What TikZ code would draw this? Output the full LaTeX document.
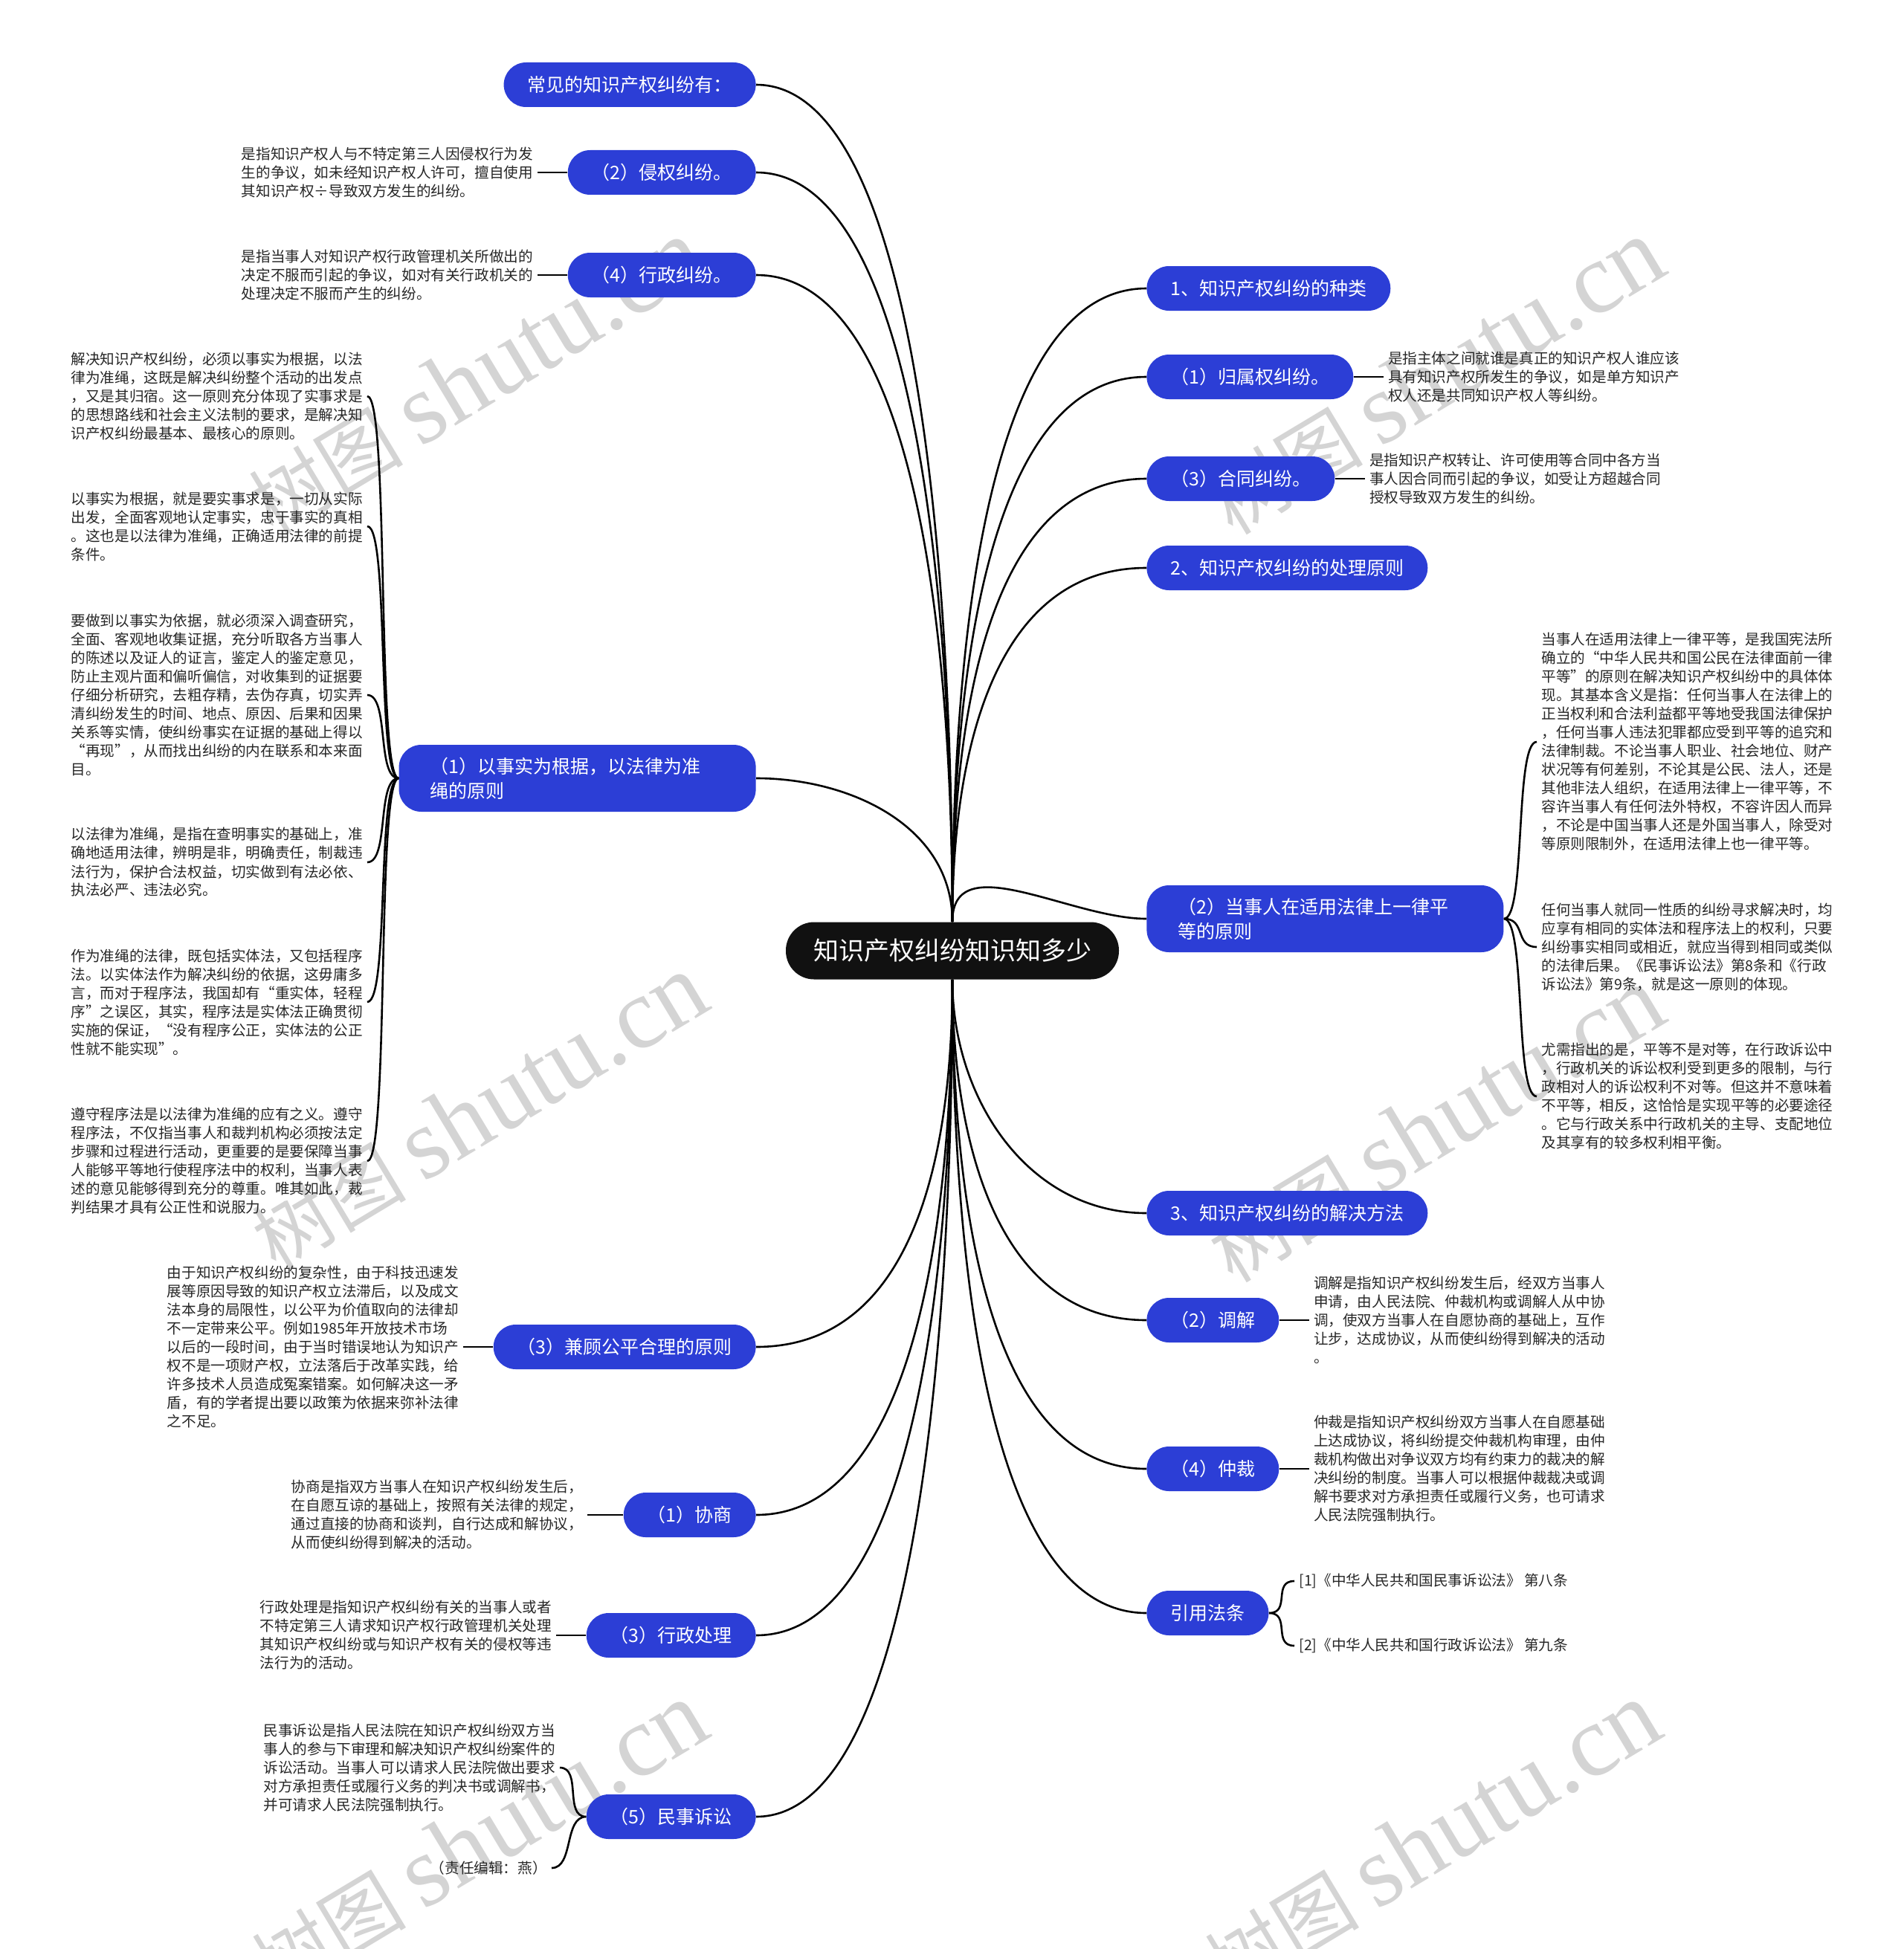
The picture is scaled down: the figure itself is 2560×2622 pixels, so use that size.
\documentclass[tikz,border=0pt]{standalone}
\usepackage{fontspec}
\setmainfont{Noto Sans CJK SC}
\newfontfamily\wmlatin{Liberation Serif}
\usetikzlibrary{positioning}
\definecolor{mapblue}{HTML}{2C3ED6}
\definecolor{rootink}{HTML}{111111}
\definecolor{noteink}{HTML}{262626}
\definecolor{wmgray}{HTML}{D4D4D4}
\tikzset{
  rootbox/.style={
    rectangle, rounded corners=19pt, fill=rootink, text=white,
    minimum width=224pt, minimum height=38.5pt,
    font=\fontsize{17}{20}\selectfont
  },
  topicbox/.style={
    rectangle, rounded corners=15pt, fill=mapblue, text=white,
    minimum height=30pt, inner xsep=16pt, align=left,
    font=\fontsize{12.5}{16.5}\selectfont
  },
  widebox/.style={topicbox, inner xsep=21pt, text width=198pt, minimum height=45pt},
  note/.style={
    font=\fontsize{9.8}{12.5}\selectfont, text=noteink,
    align=left, inner sep=3pt
  },
  link/.style={draw=black, line width=1.3pt},
  trunk/.style={link, in max distance=110pt},
  watermark/.style={text=wmgray, rotate=31, font=\fontsize{52}{52}\selectfont},
}
\newcommand{\wmtext}{树图 {\wmlatin\fontsize{68}{68}\selectfont shutu.cn}}

\begin{document}
\begin{tikzpicture}[x=0.5pt, y=-0.5pt, node distance=20pt]
  \useasboundingbox (0,0) rectangle (2560,2622);
  % watermarks
  \foreach \wx/\wy in {640/507, 1931/507, 644/1496, 1931/1513, 644/2475, 1926/2475}
    \node[watermark] at (\wx,\wy) {\wmtext};

  \node[rootbox] (root) at (1281,1279) {知识产权纠纷知识知多少};

  % left side
  \node[topicbox, anchor=east] (lt0) at (1017,114) {常见的知识产权纠纷有：};
  \node[topicbox, anchor=east] (lt1) at (1017,232) {（2）侵权纠纷。};
  \node[note, left=of lt1] (lt1n) {是指知识产权人与不特定第三人因侵权行为发\\
    生的争议，如未经知识产权人许可，擅自使用\\
    其知识产权÷导致双方发生的纠纷。};
  \node[topicbox, anchor=east] (lt2) at (1017,370) {（4）行政纠纷。};
  \node[note, left=of lt2] (lt2n) {是指当事人对知识产权行政管理机关所做出的\\
    决定不服而引起的争议，如对有关行政机关的\\
    处理决定不服而产生的纠纷。};

  \node[widebox, anchor=east] (lp1) at (1017,1047) {（1）以事实为根据，以法律为准\\绳的原则};
  \node[note, anchor=east] (lp1a) at (494,533) {解决知识产权纠纷，必须以事实为根据，以法\\
    律为准绳，这既是解决纠纷整个活动的出发点\\
    ，又是其归宿。这一原则充分体现了实事求是\\
    的思想路线和社会主义法制的要求，是解决知\\
    识产权纠纷最基本、最核心的原则。};
  \node[note, anchor=east] (lp1b) at (494,708) {以事实为根据，就是要实事求是，一切从实际\\
    出发，全面客观地认定事实，忠于事实的真相\\
    。这也是以法律为准绳，正确适用法律的前提\\
    条件。};
  \node[note, anchor=east] (lp1c) at (494,935) {要做到以事实为依据，就必须深入调查研究，\\
    全面、客观地收集证据，充分听取各方当事人\\
    的陈述以及证人的证言，鉴定人的鉴定意见，\\
    防止主观片面和偏听偏信，对收集到的证据要\\
    仔细分析研究，去粗存精，去伪存真，切实弄\\
    清纠纷发生的时间、地点、原因、后果和因果\\
    关系等实情，使纠纷事实在证据的基础上得以\\
    “再现”，从而找出纠纷的内在联系和本来面\\
    目。};
  \node[note, anchor=east] (lp1d) at (494,1160) {以法律为准绳，是指在查明事实的基础上，准\\
    确地适用法律，辨明是非，明确责任，制裁违\\
    法行为，保护合法权益，切实做到有法必依、\\
    执法必严、违法必究。};
  \node[note, anchor=east] (lp1e) at (494,1348) {作为准绳的法律，既包括实体法，又包括程序\\
    法。以实体法作为解决纠纷的依据，这毋庸多\\
    言，而对于程序法，我国却有“重实体，轻程\\
    序”之误区，其实，程序法是实体法正确贯彻\\
    实施的保证，“没有程序公正，实体法的公正\\
    性就不能实现”。};
  \node[note, anchor=east] (lp1f) at (494,1562) {遵守程序法是以法律为准绳的应有之义。遵守\\
    程序法，不仅指当事人和裁判机构必须按法定\\
    步骤和过程进行活动，更重要的是要保障当事\\
    人能够平等地行使程序法中的权利，当事人表\\
    述的意见能够得到充分的尊重。唯其如此，裁\\
    判结果才具有公正性和说服力。};

  \node[topicbox, anchor=east] (lp3) at (1017,1812) {（3）兼顾公平合理的原则};
  \node[note, left=of lp3] (lp3n) {由于知识产权纠纷的复杂性，由于科技迅速发\\
    展等原因导致的知识产权立法滞后，以及成文\\
    法本身的局限性，以公平为价值取向的法律却\\
    不一定带来公平。例如1985年开放技术市场\\
    以后的一段时间，由于当时错误地认为知识产\\
    权不是一项财产权，立法落后于改革实践，给\\
    许多技术人员造成冤案错案。如何解决这一矛\\
    盾，有的学者提出要以政策为依据来弥补法律\\
    之不足。};

  \node[topicbox, anchor=east] (lm1) at (1017,2038) {（1）协商};
  \node[note, left=24pt of lm1] (lm1n) {协商是指双方当事人在知识产权纠纷发生后，\\
    在自愿互谅的基础上，按照有关法律的规定，\\
    通过直接的协商和谈判，自行达成和解协议，\\
    从而使纠纷得到解决的活动。};
  \node[topicbox, anchor=east] (lm3) at (1017,2200) {（3）行政处理};
  \node[note, left=of lm3] (lm3n) {行政处理是指知识产权纠纷有关的当事人或者\\
    不特定第三人请求知识产权行政管理机关处理\\
    其知识产权纠纷或与知识产权有关的侵权等违\\
    法行为的活动。};
  \node[topicbox, anchor=east] (lm5) at (1017,2444) {（5）民事诉讼};
  \node[note, anchor=east] (lm5a) at (753,2378) {民事诉讼是指人民法院在知识产权纠纷双方当\\
    事人的参与下审理和解决知识产权纠纷案件的\\
    诉讼活动。当事人可以请求人民法院做出要求\\
    对方承担责任或履行义务的判决书或调解书，\\
    并可请求人民法院强制执行。};
  \node[note, anchor=east] (lm5b) at (742,2513) {（责任编辑：燕）};

  % right side
  \node[topicbox, anchor=west] (r1) at (1542,388) {1、知识产权纠纷的种类};
  \node[topicbox, anchor=west] (rt1) at (1542,507) {（1）归属权纠纷。};
  \node[note, right=of rt1] (rt1n) {是指主体之间就谁是真正的知识产权人谁应该\\
    具有知识产权所发生的争议，如是单方知识产\\
    权人还是共同知识产权人等纠纷。};
  \node[topicbox, anchor=west] (rt3) at (1542,644) {（3）合同纠纷。};
  \node[note, right=of rt3] (rt3n) {是指知识产权转让、许可使用等合同中各方当\\
    事人因合同而引起的争议，如受让方超越合同\\
    授权导致双方发生的纠纷。};
  \node[topicbox, anchor=west] (r2) at (1542,764) {2、知识产权纠纷的处理原则};

  \node[widebox, anchor=west] (rp2) at (1542,1236) {（2）当事人在适用法律上一律平\\等的原则};
  \node[note, anchor=west] (rp2a) at (2067,998) {当事人在适用法律上一律平等，是我国宪法所\\
    确立的“中华人民共和国公民在法律面前一律\\
    平等”的原则在解决知识产权纠纷中的具体体\\
    现。其基本含义是指：任何当事人在法律上的\\
    正当权利和合法利益都平等地受我国法律保护\\
    ，任何当事人违法犯罪都应受到平等的追究和\\
    法律制裁。不论当事人职业、社会地位、财产\\
    状况等有何差别，不论其是公民、法人，还是\\
    其他非法人组织，在适用法律上一律平等，不\\
    容许当事人有任何法外特权，不容许因人而异\\
    ，不论是中国当事人还是外国当事人，除受对\\
    等原则限制外，在适用法律上也一律平等。};
  \node[note, anchor=west] (rp2b) at (2067,1274) {任何当事人就同一性质的纠纷寻求解决时，均\\
    应享有相同的实体法和程序法上的权利，只要\\
    纠纷事实相同或相近，就应当得到相同或类似\\
    的法律后果。《民事诉讼法》第8条和《行政\\
    诉讼法》第9条，就是这一原则的体现。};
  \node[note, anchor=west] (rp2c) at (2067,1475) {尤需指出的是，平等不是对等，在行政诉讼中\\
    ，行政机关的诉讼权利受到更多的限制，与行\\
    政相对人的诉讼权利不对等。但这并不意味着\\
    不平等，相反，这恰恰是实现平等的必要途径\\
    。它与行政关系中行政机关的主导、支配地位\\
    及其享有的较多权利相平衡。};

  \node[topicbox, anchor=west] (r3) at (1542,1632) {3、知识产权纠纷的解决方法};
  \node[topicbox, anchor=west] (rm2) at (1542,1776) {（2）调解};
  \node[note, right=of rm2] (rm2n) {调解是指知识产权纠纷发生后，经双方当事人\\
    申请，由人民法院、仲裁机构或调解人从中协\\
    调，使双方当事人在自愿协商的基础上，互作\\
    让步，达成协议，从而使纠纷得到解决的活动\\
    。};
  \node[topicbox, anchor=west] (rm4) at (1542,1976) {（4）仲裁};
  \node[note, right=of rm4] (rm4n) {仲裁是指知识产权纠纷双方当事人在自愿基础\\
    上达成协议，将纠纷提交仲裁机构审理，由仲\\
    裁机构做出对争议双方均有约束力的裁决的解\\
    决纠纷的制度。当事人可以根据仲裁裁决或调\\
    解书要求对方承担责任或履行义务，也可请求\\
    人民法院强制执行。};
  \node[topicbox, anchor=west] (rcite) at (1542,2170) {引用法条};
  \node[note, anchor=west] (cite1) at (1741,2127) {[1]《中华人民共和国民事诉讼法》 第八条};
  \node[note, anchor=west] (cite2) at (1741,2214) {[2]《中华人民共和国行政诉讼法》 第九条};

  % trunk links
  \foreach \t in {lt0,lt1,lt2,lp1}
    \draw[trunk] (root.north) to[out=90, in=0] (\t.east);
  \foreach \t in {r1,rt1,rt3,r2,rp2}
    \draw[trunk] (root.north) to[out=90, in=180] (\t.west);
  \foreach \t in {lp3,lm1,lm3,lm5}
    \draw[trunk] (root.south) to[out=270, in=0] (\t.east);
  \foreach \t in {r3,rm2,rm4,rcite}
    \draw[trunk] (root.south) to[out=270, in=180] (\t.west);

  % leaf links
  \foreach \t in {lt1,lt2,lp3,lm1,lm3}
    \draw[link] (\t.west) -- (\t n.east);
  \foreach \t in {rt1,rt3,rm2,rm4}
    \draw[link] (\t.east) -- (\t n.west);
  \foreach \c in {lp1a,lp1b,lp1c,lp1d,lp1e,lp1f}
    \draw[link] (lp1.west) .. controls +(-30,0) and +(30,0) .. (\c.east);
  \foreach \c in {lm5a,lm5b}
    \draw[link] (lm5.west) .. controls +(-30,0) and +(30,0) .. (\c.east);
  \foreach \c in {rp2a,rp2b,rp2c}
    \draw[link] (rp2.east) .. controls +(30,0) and +(-30,0) .. (\c.west);
  \foreach \c in {cite1,cite2}
    \draw[link] (rcite.east) .. controls +(30,0) and +(-30,0) .. (\c.west);
\end{tikzpicture}
\end{document}
